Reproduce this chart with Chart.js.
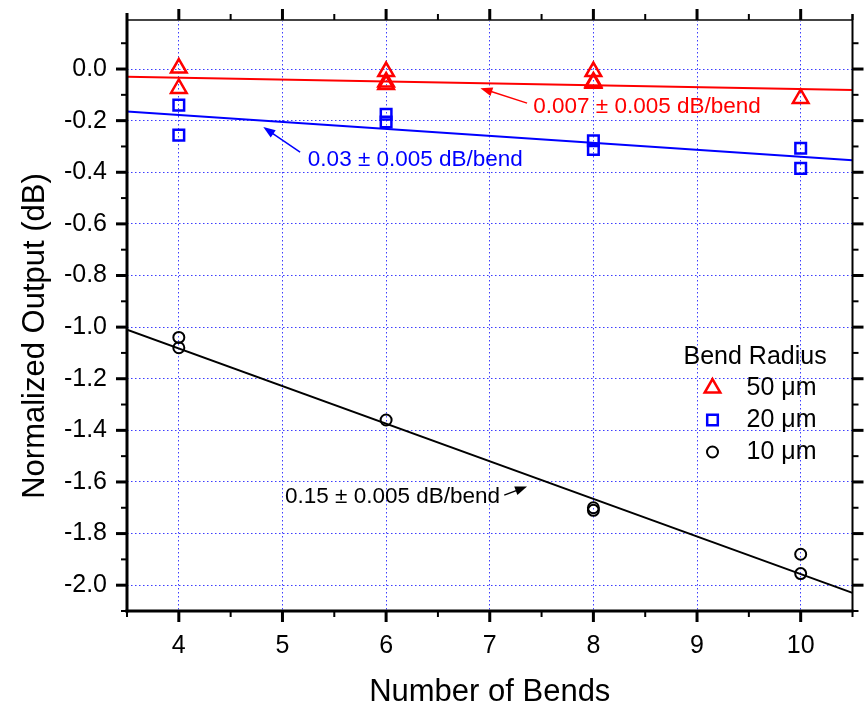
<!DOCTYPE html>
<html>
<head>
<meta charset="utf-8">
<script src="https://cdn.jsdelivr.net/npm/chart.js@4/dist/chart.umd.min.js"></script>
<style>
  html, body { margin: 0; padding: 0; background: #fff; }
  #wrap { width: 864px; height: 706px; }
</style>
</head>
<body>
<div id="wrap"><canvas id="chart" width="864" height="706"></canvas></div>
<script>
// bend counts and measured outputs (dB)
const bends50 = [4, 4, 6, 6, 6, 8, 8, 8, 10];
const out50 = [0.004, -0.075, -0.01, -0.05, -0.06, -0.01, -0.05, -0.055, -0.114];
const bends20 = [4, 4, 6, 6, 8, 8, 10, 10];
const out20 = [-0.14, -0.256, -0.175, -0.205, -0.278, -0.312, -0.307, -0.385];
const bends10 = [4, 4, 6, 8, 8, 10, 10];
const out10 = [-1.04, -1.08, -1.36, -1.70, -1.71, -1.88, -1.955];

// linear fits, drawn across the axis range
const fitX = [3.5, 10.5];
const fit50 = [-0.03, -0.081];
const fit20 = [-0.165, -0.353];
const fit10 = [-1.01, -2.03];

// axis ticks
const xTicks = [4, 5, 6, 7, 8, 9, 10];
const xMinor = [3.5, 4.5, 5.5, 6.5, 7.5, 8.5, 9.5, 10.5];
const yTicks = [-2.0, -1.8, -1.6, -1.4, -1.2, -1.0, -0.8, -0.6, -0.4, -0.2, 0.0];
const yMinor = [-2.1, -1.9, -1.7, -1.5, -1.3, -1.1, -0.9, -0.7, -0.5, -0.3, -0.1, 0.1];

const FONT = "'Liberation Sans', Arial, sans-serif";
const pts = (xs, ys) => xs.map((x, i) => ({ x: x, y: ys[i] }));

// slope labels: text anchor and arrow (tail -> head) in data units
const notes = [
  { text: "0.007 \u00b1 0.005 dB/bend", color: "#ff0000", tx: 7.42, ty: -0.147, ax: 7.36, ay: -0.132, hx: 6.91, hy: -0.074 },
  { text: "0.03 \u00b1 0.005 dB/bend", color: "#0000ff", tx: 5.245, ty: -0.353, ax: 5.17, ay: -0.322, hx: 4.815, hy: -0.225 },
  { text: "0.15 \u00b1 0.005 dB/bend", color: "#000000", tx: 5.025, ty: -1.659, ax: 7.14, ay: -1.651, hx: 7.36, hy: -1.618 }
];

function arrow(ctx, x1, y1, x2, y2, color) {
  const a = Math.atan2(y2 - y1, x2 - x1);
  ctx.strokeStyle = color;
  ctx.fillStyle = color;
  ctx.lineWidth = 1.5;
  ctx.beginPath();
  ctx.moveTo(x1, y1);
  ctx.lineTo(x2 - 8 * Math.cos(a), y2 - 8 * Math.sin(a));
  ctx.stroke();
  ctx.beginPath();
  ctx.moveTo(x2, y2);
  ctx.lineTo(x2 - 12 * Math.cos(a) + 4.5 * Math.sin(a), y2 - 12 * Math.sin(a) - 4.5 * Math.cos(a));
  ctx.lineTo(x2 - 12 * Math.cos(a) - 4.5 * Math.sin(a), y2 - 12 * Math.sin(a) + 4.5 * Math.cos(a));
  ctx.closePath();
  ctx.fill();
}

const framePlugin = {
  id: "frame",
  afterDraw(c) {
    const ctx = c.ctx, a = c.chartArea;
    const xs = c.scales.x, ys = c.scales.y;
    ctx.save();
    ctx.lineCap = "butt";

    // frame lines
    ctx.strokeStyle = "#444";
    ctx.lineWidth = 2;
    ctx.beginPath(); ctx.moveTo(a.left, a.top); ctx.lineTo(a.right, a.top); ctx.stroke();
    ctx.strokeStyle = "#000";
    ctx.beginPath(); ctx.moveTo(a.right, a.top - 6); ctx.lineTo(a.right, a.bottom); ctx.stroke();
    ctx.lineWidth = 3;
    ctx.beginPath(); ctx.moveTo(a.left, a.top - 7); ctx.lineTo(a.left, a.bottom + 1.5); ctx.stroke();
    ctx.beginPath(); ctx.moveTo(a.left - 1.5, a.bottom); ctx.lineTo(a.right + 1, a.bottom); ctx.stroke();

    // tick marks, outward on all four sides
    const tick = (vals, len) => {
      vals.forEach(v => {
        const px = xs.getPixelForValue(v);
        ctx.beginPath(); ctx.moveTo(px, a.bottom); ctx.lineTo(px, a.bottom + len); ctx.stroke();
        ctx.beginPath(); ctx.moveTo(px, a.top); ctx.lineTo(px, a.top - len); ctx.stroke();
      });
    };
    const ytick = (vals, len) => {
      vals.forEach(v => {
        const py = ys.getPixelForValue(v);
        ctx.beginPath(); ctx.moveTo(a.left, py); ctx.lineTo(a.left - len, py); ctx.stroke();
        ctx.beginPath(); ctx.moveTo(a.right, py); ctx.lineTo(a.right + len, py); ctx.stroke();
      });
    };
    ctx.lineWidth = 3;
    tick(xTicks, 11);
    ytick(yTicks, 11);
    ctx.lineWidth = 2;
    tick(xMinor, 6);
    ytick(yMinor, 6);

    // y axis title
    ctx.save();
    ctx.translate(35, 336);
    ctx.rotate(-Math.PI / 2);
    ctx.fillStyle = "#000";
    ctx.font = "31px " + FONT;
    ctx.textAlign = "center";
    ctx.textBaseline = "middle";
    ctx.fillText("Normalized Output (dB)", 0, 0);
    ctx.restore();

    // slope annotations
    ctx.font = "22.5px " + FONT;
    ctx.textBaseline = "middle";
    ctx.textAlign = "left";
    notes.forEach(n => {
      arrow(ctx, xs.getPixelForValue(n.ax), ys.getPixelForValue(n.ay),
        xs.getPixelForValue(n.hx), ys.getPixelForValue(n.hy), n.color);
      ctx.fillStyle = n.color;
      ctx.fillText(n.text, xs.getPixelForValue(n.tx), ys.getPixelForValue(n.ty));
    });

    // legend
    const lx = a.right - 169, ly = a.top + 337;
    ctx.fillStyle = "#000";
    ctx.font = "25px " + FONT;
    ctx.fillText("Bend Radius", lx, ly);
    [0, 1, 2].forEach(i => {
      const ds = c.data.datasets[i];
      const y = ly + 31 + i * 32;
      ctx.strokeStyle = ds.borderColor;
      ctx.fillStyle = "rgba(0,0,0,0)";
      ctx.lineWidth = ds.borderWidth;
      Chart.helpers.drawPoint(ctx, {
        pointStyle: ds.pointStyle, radius: ds.pointRadius, rotation: 0, borderWidth: ds.borderWidth
      }, lx + 29, y);
      ctx.fillStyle = "#000";
      ctx.fillText(ds.label, lx + 63, y);
    });
    ctx.restore();
  }
};

new Chart(document.getElementById("chart"), {
  type: "scatter",
  data: {
    datasets: [
      { label: "50 \u03bcm", data: pts(bends50, out50), pointStyle: "triangle", pointRadius: 9,
        borderColor: "#ff0000", backgroundColor: "rgba(0,0,0,0)", borderWidth: 2.5 },
      { label: "20 \u03bcm", data: pts(bends20, out20), pointStyle: "rect", pointRadius: 7.5,
        borderColor: "#0000ff", backgroundColor: "rgba(0,0,0,0)", borderWidth: 2.5 },
      { label: "10 \u03bcm", data: pts(bends10, out10), pointStyle: "circle", pointRadius: 5.5,
        borderColor: "#000000", backgroundColor: "rgba(0,0,0,0)", borderWidth: 2 },
      { type: "line", data: pts(fitX, fit50), borderColor: "#ff0000", borderWidth: 2, pointRadius: 0 },
      { type: "line", data: pts(fitX, fit20), borderColor: "#0000ff", borderWidth: 2, pointRadius: 0 },
      { type: "line", data: pts(fitX, fit10), borderColor: "#000000", borderWidth: 2, pointRadius: 0 }
    ]
  },
  options: {
    responsive: false,
    animation: false,
    events: [],
    layout: { padding: { left: 0, top: 20, right: 1, bottom: 0 } },
    plugins: { legend: { display: false }, tooltip: { enabled: false } },
    scales: {
      x: {
        type: "linear", min: 3.5, max: 10.5,
        afterBuildTicks: s => { s.ticks = xTicks.map(v => ({ value: v })); },
        afterFit: s => { s.height = 95; s.paddingLeft = 0; s.paddingRight = 0; },
        grid: { color: "#3c3cff", lineWidth: 1, drawTicks: false },
        border: { display: false, dash: [1.5, 2.5] },
        ticks: { color: "#000", padding: 20, font: { family: FONT, size: 25 }, maxRotation: 0 },
        title: { display: true, text: "Number of Bends", color: "#000",
          font: { family: FONT, size: 31, lineHeight: 0.9 }, padding: { top: 0, bottom: 0 } }
      },
      y: {
        type: "linear", min: -2.1, max: 0.19,
        afterBuildTicks: s => { s.ticks = yTicks.map(v => ({ value: v })); },
        afterFit: s => { s.width = 127; s.paddingTop = 0; s.paddingBottom = 0; },
        grid: { color: "#3c3cff", lineWidth: 1, drawTicks: false },
        border: { display: false, dash: [1.5, 2.5] },
        ticks: { color: "#000", padding: 20, font: { family: FONT, size: 25 },
          callback: v => v.toFixed(1) }
      }
    }
  },
  plugins: [framePlugin]
});
</script>
</body>
</html>
